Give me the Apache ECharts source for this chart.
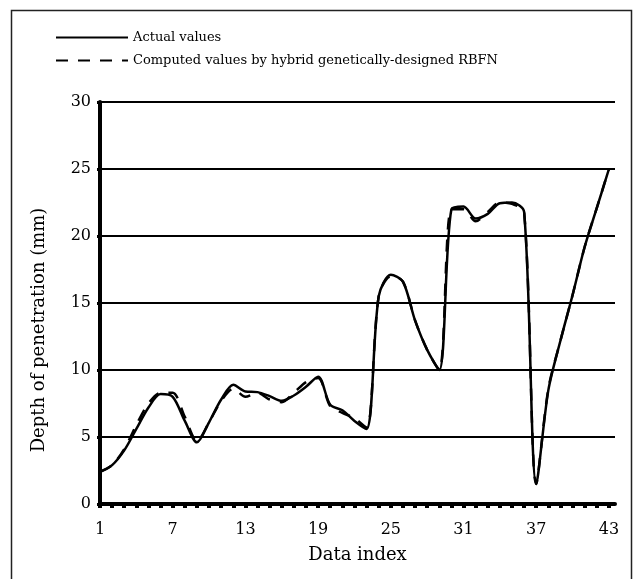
<!DOCTYPE html>
<html>
<head>
<meta charset="utf-8">
<script src="https://cdn.jsdelivr.net/npm/echarts@6/dist/echarts.min.js"></script>
<style>
html,body{margin:0;padding:0;background:#fff;}
#chart{width:636px;height:579px;}
</style>
</head>
<body>
<div id="chart"></div>
<script>
// Data index 1..43
const dataIndex = [1,2,3,4,5,6,7,8,9,10,11,12,13,14,15,16,17,18,19,20,21,22,23,24,25,26,27,28,29,30,31,32,33,34,35,36,37,38,39,40,41,42,43];
const actualValues = [2.4,2.9,4.0,5.6,7.2,8.2,8.0,6.2,4.6,6.1,7.8,8.9,8.4,8.35,8.05,7.7,8.1,8.75,9.5,7.4,7.0,6.2,5.6,15.5,17.1,16.6,13.7,11.5,10.0,22.0,22.2,21.3,21.65,22.45,22.5,21.8,1.5,8.5,12.2,15.6,19.2,22.1,25.0];
const computedValues = [2.4,2.9,4.1,5.9,7.5,8.3,8.3,6.5,4.7,6.1,7.7,8.6,8.0,8.3,7.8,7.6,8.3,9.1,9.4,7.3,6.8,6.4,5.7,15.5,17.0,16.6,13.7,11.5,10.0,22.0,22.0,21.1,21.8,22.5,22.4,21.8,1.5,8.6,12.2,15.6,19.2,22.1,25.0];
const xTickLabels = [1,7,13,19,25,31,37,43];
const yTickLabels = [0,5,10,15,20,25,30];
const seriesNames = ['Actual values','Computed values by hybrid genetically-designed RBFN'];

const FONT = 'DejaVu Serif';
const chart = echarts.init(document.getElementById('chart'), null, {renderer:'canvas'});
const toPairs = arr => dataIndex.map((x,i)=>[x,arr[i]]);

chart.setOption({
  animation:false,
  backgroundColor:'#fff',
  textStyle:{fontFamily:FONT,color:'#000'},
  graphic:[{
    type:'rect', left:9, top:8, silent:true,
    shape:{x:0,y:0,width:620,height:580},
    style:{fill:'none',stroke:'#222',lineWidth:1.5}
  }],
  legend:{
    left:50, top:26, orient:'vertical',
    itemWidth:72, itemHeight:14, itemGap:10,
    itemStyle:{opacity:0},
    textStyle:{fontFamily:FONT,fontSize:13,color:'#000'},
    data:seriesNames.map(n=>({name:n}))
  },
  grid:{left:100,right:21,top:102,bottom:75,containLabel:false},
  xAxis:{
    type:'value', min:1, max:43.5,
    name:'Data index', nameLocation:'middle', nameGap:42,
    nameTextStyle:{fontFamily:FONT,fontSize:18,color:'#000'},
    axisLine:{show:true,onZero:false,lineStyle:{color:'#000',width:4}},
    axisTick:{show:true,inside:false,length:4,customValues:dataIndex,lineStyle:{color:'#000',width:4}},
    axisLabel:{customValues:xTickLabels,fontFamily:FONT,fontSize:16,color:'#000',margin:18},
    splitLine:{show:false}
  },
  yAxis:{
    type:'value', min:0, max:30, interval:5,
    name:'Depth of penetration (mm)', nameLocation:'middle', nameGap:52,
    nameTextStyle:{fontFamily:FONT,fontSize:18,color:'#000',padding:[0,54,0,0]},
    axisLine:{show:true,lineStyle:{color:'#000',width:4}},
    axisTick:{show:true,length:3,lineStyle:{color:'#000',width:3}},
    axisLabel:{customValues:yTickLabels,fontFamily:FONT,fontSize:16,color:'#000',margin:9},
    splitLine:{show:true,lineStyle:{color:'#000',width:2}}
  },
  series:[
    {name:seriesNames[0],type:'line',data:toPairs(actualValues),smooth:0.3,symbol:'none',
     lineStyle:{color:'#000',width:2.5,type:'solid'},itemStyle:{color:'#000'},z:3},
    {name:seriesNames[1],type:'line',data:toPairs(computedValues),smooth:0.3,symbol:'none',
     lineStyle:{color:'#000',width:2.5,type:[12,10]},itemStyle:{color:'#000'},z:4}
  ]
});
</script>
</body>
</html>
